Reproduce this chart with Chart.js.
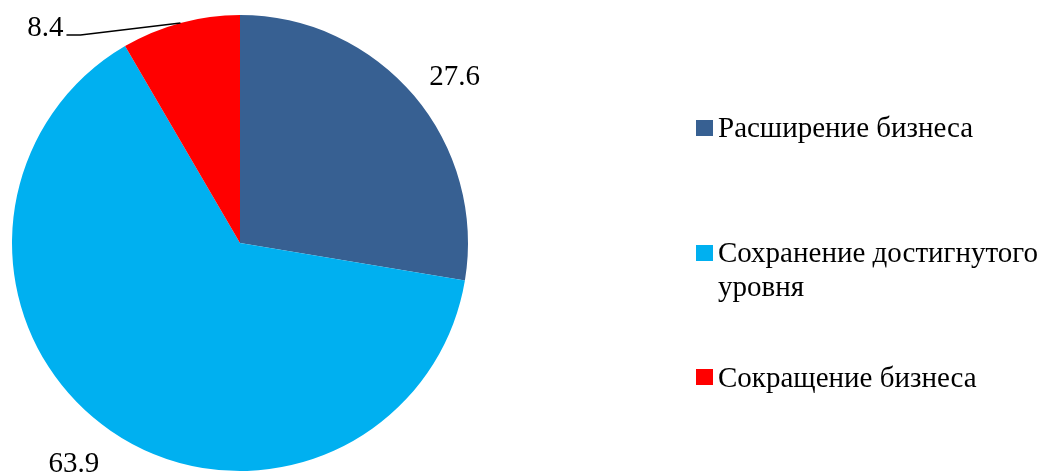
<!DOCTYPE html>
<html>
<head>
<meta charset="utf-8">
<script src="https://cdn.jsdelivr.net/npm/chart.js@4.4.0/dist/chart.umd.min.js"></script>
<style>
  html, body { margin: 0; padding: 0; background: #fff; }
  #wrap { width: 1046px; height: 473px; }
</style>
</head>
<body>
<div id="wrap"><canvas id="pieChart" width="1046" height="473"></canvas></div>
<script>
const categories = ['Расширение бизнеса', 'Сохранение достигнутого уровня', 'Сокращение бизнеса'];
const legendLines = [['Расширение бизнеса'], ['Сохранение достигнутого', 'уровня'], ['Сокращение бизнеса']];
const shares = [27.6, 63.9, 8.4];
const sliceColors = ['#376092', '#00B0F0', '#FF0000'];

const FONT = '"Liberation Serif", "Times New Roman", serif';

// value labels outside the slices, small slice gets a leader line
const outsideLabels = {
  id: 'outsideLabels',
  afterDatasetsDraw(chart) {
    const c = chart.ctx;
    const meta = chart.getDatasetMeta(0);
    c.save();
    c.font = '29px ' + FONT;
    c.fillStyle = '#000';
    c.textBaseline = 'middle';
    meta.data.forEach((arc, i) => {
      const p = arc.getProps(['x', 'y', 'startAngle', 'endAngle', 'outerRadius']);
      const mid = (p.startAngle + p.endAngle) / 2;
      const cos = Math.cos(mid), sin = Math.sin(mid);
      const txt = shares[i].toFixed(1);
      const w = c.measureText(txt).width;
      if (shares[i] < 10) {
        // leader line from the arc edge out to the left
        const ex = p.x + cos * p.outerRadius;
        const ey = p.y + sin * p.outerRadius;
        const lx = ex - 114, ly = ey + 12;
        c.strokeStyle = '#000';
        c.lineWidth = 1.5;
        c.beginPath();
        c.moveTo(lx, ly);
        c.lineTo(lx + 14, ly);
        c.lineTo(ex, ey);
        c.stroke();
        c.textAlign = 'right';
        c.fillText(txt, lx - 3, ly - 7);
      } else {
        const r = p.outerRadius + 20;
        const x = p.x + cos * r;
        const y = p.y + sin * r + sin * 15 + 4.6;
        c.textAlign = 'left';
        c.fillText(txt, cos > 0 ? x : x - w, y);
      }
    });
    c.restore();
  }
};

// legend drawn on the right like the original
const sideLegend = {
  id: 'sideLegend',
  afterDraw(chart) {
    const c = chart.ctx;
    const boxTop = [120, 245, 369];
    const baseY = [137, 262, 387];
    c.save();
    c.font = '29px ' + FONT;
    c.textBaseline = 'alphabetic';
    c.textAlign = 'left';
    legendLines.forEach((lines, i) => {
      c.fillStyle = sliceColors[i];
      c.fillRect(696, boxTop[i], 17, 16);
      c.fillStyle = '#000';
      lines.forEach((ln, j) => {
        c.fillText(ln, 718, baseY[i] + j * 34);
      });
    });
    c.restore();
  }
};

const ctx = document.getElementById('pieChart').getContext('2d');
const pieChart = new Chart(ctx, {
  type: 'pie',
  data: {
    labels: categories,
    datasets: [{
      data: shares,
      backgroundColor: sliceColors,
      borderWidth: 0
    }]
  },
  options: {
    responsive: false,
    animation: false,
    layout: {
      padding: { top: 15, bottom: 2, left: 12, right: 578 }
    },
    plugins: {
      legend: { display: false },
      tooltip: { enabled: false }
    }
  },
  plugins: [outsideLabels, sideLegend]
});
</script>
</body>
</html>
